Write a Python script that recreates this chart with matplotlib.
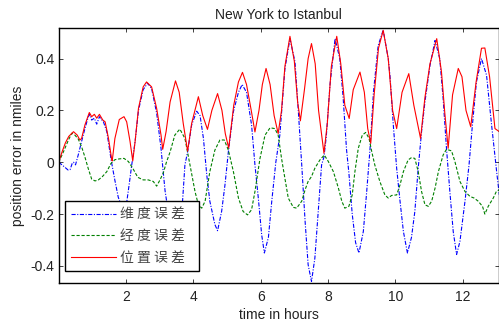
import matplotlib
matplotlib.use("Agg")
import matplotlib.pyplot as plt

plt.rcParams['font.family'] = ['Liberation Sans', 'Noto Sans CJK SC', 'DejaVu Sans']
plt.rcParams['lines.scale_dashes'] = False

title = "New York to Istanbul"
xlabel = "time in hours"
ylabel = "position error in nmiles"
series_labels = ["维 度 误 差", "经 度 误 差", "位 置 误 差"]
xticks = [2, 4, 6, 8, 10, 12]
yticks = [-0.4, -0.2, 0, 0.2, 0.4]
yticklabels = ["-0.4", "-0.2", "0", "0.2", "0.4"]

# latitude error (blue)
t_lat = [0.00, 0.10, 0.19, 0.28, 0.34, 0.40, 0.44, 0.50, 0.58, 0.68, 0.78, 0.88, 0.93, 0.98,
         1.06, 1.13, 1.21, 1.27, 1.33, 1.43, 1.52, 1.57, 1.67, 1.77, 1.87, 1.94, 2.02, 2.10,
         2.17, 2.27, 2.37, 2.51, 2.64, 2.76, 2.91, 3.04, 3.10, 3.16, 3.30, 3.45, 3.58, 3.68,
         3.75, 3.83, 3.95, 4.10, 4.20, 4.30, 4.40, 4.49, 4.64, 4.72, 4.84, 4.94, 5.04, 5.19,
         5.34, 5.45, 5.58, 5.73, 5.83, 5.93, 6.03, 6.11, 6.23, 6.33, 6.45, 6.57, 6.72, 6.87,
         7.02, 7.12, 7.22, 7.32, 7.41, 7.51, 7.61, 7.71, 7.81, 7.88, 7.95, 8.06, 8.21, 8.35,
         8.45, 8.55, 8.62, 8.72, 8.82, 8.92, 9.05, 9.15, 9.25, 9.35, 9.49, 9.64, 9.79, 9.84,
         9.94, 10.04, 10.14, 10.24, 10.36, 10.48, 10.58, 10.68, 10.78, 10.88, 11.03, 11.18,
         11.32, 11.42, 11.52, 11.62, 11.72, 11.82, 11.92, 12.07, 12.19, 12.29, 12.41, 12.56,
         12.71, 12.86, 13.01, 13.09]
lat = [0.000, -0.010, -0.020, -0.030, -0.028, -0.005, 0.000, -0.010, 0.028, 0.080, 0.130, 0.176, 0.185, 0.163,
       0.170, 0.147, 0.176, 0.165, 0.156, 0.118, 0.041, 0.000, -0.070, -0.135, -0.170, -0.176, -0.155, -0.080,
       -0.010, 0.080, 0.200, 0.280, 0.305, 0.285, 0.190, 0.054, -0.030, -0.110, -0.230, -0.300, -0.250, -0.150,
       -0.010, 0.040, 0.144, 0.197, 0.180, 0.092, -0.050, -0.150, -0.240, -0.264, -0.190, -0.087, 0.040, 0.195,
       0.270, 0.300, 0.270, 0.144, -0.010, -0.138, -0.280, -0.350, -0.290, -0.150, 0.000, 0.105, 0.360, 0.477,
       0.387, 0.195, -0.010, -0.228, -0.395, -0.460, -0.370, -0.190, -0.010, 0.020, 0.100, 0.300, 0.477, 0.400,
       0.250, 0.050, -0.040, -0.200, -0.310, -0.350, -0.267, -0.113, 0.054, 0.270, 0.450, 0.510, 0.400, 0.336,
       0.144, -0.023, -0.150, -0.267, -0.350, -0.290, -0.190, -0.023, 0.118, 0.233, 0.374, 0.470,
       0.400, 0.246, 0.054, -0.113, -0.267, -0.356, -0.305, -0.150, -0.010, 0.144, 0.310, 0.400,
       0.336, 0.144, -0.036, -0.126]

# longitude error (green)
t_lon = [0.00, 0.14, 0.29, 0.39, 0.48, 0.58, 0.68, 0.78, 0.88, 0.98, 1.08, 1.18, 1.30, 1.43,
         1.55, 1.67, 1.80, 1.94, 2.07, 2.20, 2.35, 2.51, 2.66, 2.81, 2.91, 3.01, 3.11, 3.20,
         3.31, 3.45, 3.60, 3.75, 3.90, 4.05, 4.15, 4.25, 4.35, 4.49, 4.64, 4.79, 4.92, 5.04,
         5.19, 5.34, 5.48, 5.61, 5.73, 5.83, 5.98, 6.13, 6.28, 6.42, 6.52, 6.62, 6.72, 6.82,
         6.97, 7.07, 7.22, 7.32, 7.41, 7.51, 7.61, 7.76, 7.89, 8.01, 8.16, 8.31, 8.41, 8.50,
         8.62, 8.72, 8.80, 8.90, 9.02, 9.12, 9.22, 9.30, 9.39, 9.54, 9.69, 9.79, 9.89, 10.04,
         10.14, 10.24, 10.38, 10.48, 10.58, 10.68, 10.78, 10.88, 10.98, 11.08, 11.18, 11.28,
         11.42, 11.52, 11.67, 11.77, 11.92, 12.07, 12.22, 12.34, 12.46, 12.59, 12.66, 12.76,
         12.91, 13.00, 13.09]
lon = [0.000, 0.040, 0.086, 0.112, 0.105, 0.090, 0.060, 0.020, -0.025, -0.065, -0.072, -0.068, -0.055, -0.036,
       -0.005, 0.010, 0.013, 0.015, 0.003, -0.023, -0.058, -0.068, -0.068, -0.074, -0.092, -0.068, -0.040, 0.000,
       0.040, 0.105, 0.128, 0.092, -0.010, -0.113, -0.164, -0.177, -0.150, -0.036, 0.047, 0.086, 0.086, 0.047,
       -0.036, -0.138, -0.190, -0.203, -0.183, -0.113, 0.015, 0.105, 0.133, 0.130, 0.105, 0.015, -0.062, -0.138,
       -0.174, -0.177, -0.150, -0.106, -0.074, -0.055, -0.023, 0.009, 0.028, 0.003, -0.036, -0.100, -0.150, -0.177,
       -0.170, -0.126, -0.036, 0.054, 0.105, 0.115, 0.092, 0.041, -0.010, -0.074, -0.126, -0.138, -0.128, -0.126,
       -0.087, -0.036, 0.009, 0.018, 0.015, -0.036, -0.113, -0.164, -0.170, -0.150, -0.100, -0.036,
       0.028, 0.050, 0.044, 0.003, -0.074, -0.113, -0.132, -0.138, -0.150, -0.170, -0.200, -0.170,
       -0.138, -0.113, -0.106]

# position error (red)
t_pos = [0.00, 0.10, 0.20, 0.30, 0.44, 0.55, 0.63, 0.68, 0.78, 0.91, 0.98, 1.06, 1.13, 1.21,
         1.31, 1.38, 1.48, 1.57, 1.59, 1.67, 1.80, 1.94, 2.02, 2.12, 2.20, 2.27, 2.37, 2.51,
         2.61, 2.76, 2.91, 3.04, 3.09, 3.19, 3.31, 3.47, 3.58, 3.70, 3.83, 3.95, 4.15, 4.28,
         4.42, 4.55, 4.72, 4.85, 4.95, 5.05, 5.20, 5.34, 5.46, 5.58, 5.72, 5.83, 5.95, 6.05,
         6.16, 6.28, 6.40, 6.52, 6.62, 6.72, 6.87, 7.00, 7.10, 7.18, 7.30, 7.41, 7.51, 7.62,
         7.72, 7.88, 7.98, 8.10, 8.26, 8.38, 8.50, 8.63, 8.75, 8.95, 9.08, 9.18, 9.27, 9.37,
         9.50, 9.64, 9.79, 9.92, 10.04, 10.20, 10.40, 10.55, 10.75, 10.88, 11.03, 11.23, 11.37,
         11.47, 11.57, 11.70, 11.87, 11.98, 12.10, 12.24, 12.40, 12.56, 12.66, 12.80, 12.96, 13.09]
pos = [0.000, 0.040, 0.075, 0.100, 0.118, 0.105, 0.086, 0.092, 0.144, 0.192, 0.176, 0.185, 0.170, 0.185,
       0.163, 0.156, 0.092, 0.015, 0.005, 0.092, 0.165, 0.176, 0.156, 0.080, 0.005, 0.080, 0.208, 0.291,
       0.310, 0.291, 0.208, 0.105, 0.050, 0.118, 0.233, 0.314, 0.270, 0.150, 0.043, 0.150, 0.253, 0.180,
       0.127, 0.200, 0.265, 0.200, 0.110, 0.055, 0.220, 0.310, 0.347, 0.300, 0.200, 0.117, 0.200, 0.300,
       0.362, 0.300, 0.180, 0.111, 0.200, 0.370, 0.486, 0.390, 0.230, 0.160, 0.280, 0.400, 0.458, 0.380,
       0.200, 0.035, 0.150, 0.370, 0.486, 0.380, 0.220, 0.169, 0.280, 0.348, 0.270, 0.130, 0.073, 0.260,
       0.440, 0.509, 0.400, 0.200, 0.130, 0.270, 0.342, 0.220, 0.092, 0.250, 0.380, 0.477, 0.350,
       0.190, 0.054, 0.260, 0.362, 0.330, 0.200, 0.137, 0.310, 0.440, 0.441, 0.330, 0.130, 0.118]

fig = plt.figure(figsize=(4.99, 3.24), dpi=100)
ax = fig.add_axes([0.1176, 0.1256, 0.8824, 0.7871])

ax.plot(t_lat, lat, color='#0000ff', lw=0.8, linestyle=(0, (3.0, 1.1, 0.8, 1.1)), label=series_labels[0])
ax.plot(t_lon, lon, color='#008000', lw=0.8, linestyle=(0, (2.3, 1.3)), label=series_labels[1])
ax.plot(t_pos, pos, color='#ff0000', lw=0.8, linestyle='-', label=series_labels[2])

ax.set_xlim(0, 13.08)
ax.set_ylim(-0.467, 0.517)
ax.set_xticks(xticks)
ax.set_xticklabels([str(v) for v in xticks])
ax.set_yticks(yticks)
ax.set_yticklabels(yticklabels)
ax.tick_params(direction='in', length=3, width=0.6, top=True, right=True,
               labelsize=10, colors='#222222', labelcolor='#222222')
ax.tick_params(axis='x', pad=5)
ax.tick_params(axis='y', pad=3)
for s in ax.spines.values():
    s.set_linewidth(1.0)
    s.set_color('black')

ax.set_title(title, fontsize=10, pad=7, color='#222222')
ax.set_xlabel(xlabel, fontsize=10, labelpad=3, color='#222222')
ax.set_ylabel(ylabel, fontsize=10, labelpad=4, color='#222222')

leg = ax.legend(loc='upper left', bbox_to_anchor=(0.0143, 0.0558, 0.3046, 0.266),
                mode='expand', fancybox=False, framealpha=1, edgecolor='black',
                borderpad=0.45, handlelength=3.2, handletextpad=0.3, labelspacing=0.55,
                borderaxespad=0.0, prop={'family': ['Noto Sans CJK SC', 'DejaVu Sans'], 'size': 10})
leg.get_frame().set_linewidth(1.0)
for txt in leg.get_texts():
    txt.set_color('#444444')

fig.savefig("out.png", dpi=100)
